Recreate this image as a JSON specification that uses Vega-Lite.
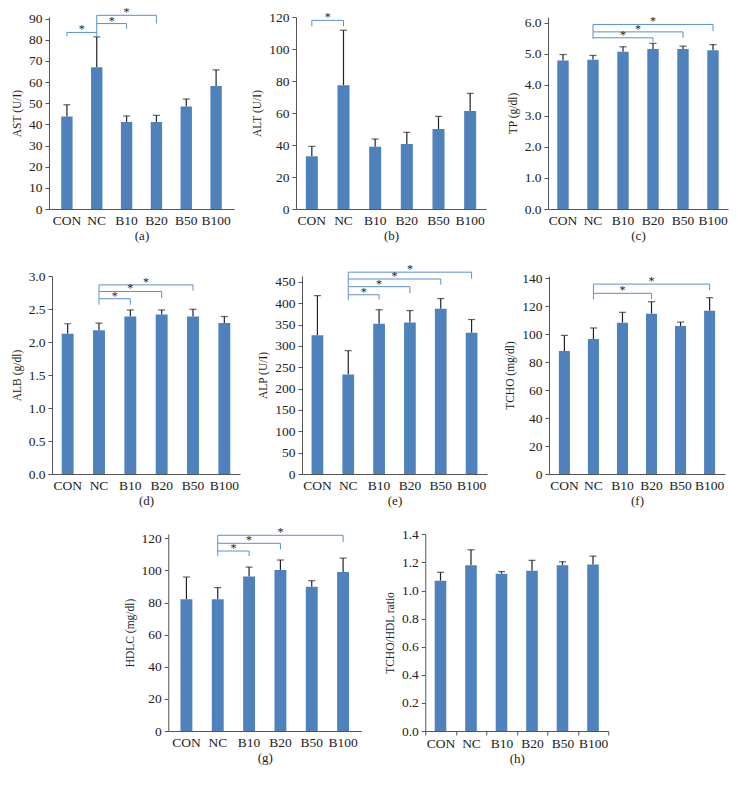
{
"$schema": "https://vega.github.io/schema/vega-lite/v6.json",
"padding": {"left": 11, "top": 6, "right": 5, "bottom": 5},
"datasets": {
"bars": [
{"p":"a","g":"CON","v":43.8,"e":49.3},{"p":"a","g":"NC","v":67.0,"e":81.4},{"p":"a","g":"B10","v":41.2,"e":44.0},{"p":"a","g":"B20","v":41.2,"e":44.3},{"p":"a","g":"B50","v":48.5,"e":52.0},{"p":"a","g":"B100","v":58.2,"e":65.8},
{"p":"b","g":"CON","v":33.0,"e":39.2},{"p":"b","g":"NC","v":77.4,"e":111.9},{"p":"b","g":"B10","v":39.0,"e":43.8},{"p":"b","g":"B20","v":40.7,"e":48.0},{"p":"b","g":"B50","v":50.1,"e":58.0},{"p":"b","g":"B100","v":61.4,"e":72.4},
{"p":"c","g":"CON","v":4.79,"e":4.98},{"p":"c","g":"NC","v":4.81,"e":4.95},{"p":"c","g":"B10","v":5.07,"e":5.23},{"p":"c","g":"B20","v":5.16,"e":5.34},{"p":"c","g":"B50","v":5.16,"e":5.25},{"p":"c","g":"B100","v":5.12,"e":5.30},
{"p":"d","g":"CON","v":2.13,"e":2.28},{"p":"d","g":"NC","v":2.18,"e":2.29},{"p":"d","g":"B10","v":2.39,"e":2.49},{"p":"d","g":"B20","v":2.42,"e":2.49},{"p":"d","g":"B50","v":2.39,"e":2.50},{"p":"d","g":"B100","v":2.29,"e":2.39},
{"p":"e","g":"CON","v":325,"e":418},{"p":"e","g":"NC","v":233,"e":289},{"p":"e","g":"B10","v":352,"e":385},{"p":"e","g":"B20","v":355,"e":383},{"p":"e","g":"B50","v":387,"e":411},{"p":"e","g":"B100","v":331,"e":362},
{"p":"f","g":"CON","v":88.0,"e":99.2},{"p":"f","g":"NC","v":96.6,"e":104.5},{"p":"f","g":"B10","v":108.3,"e":115.7},{"p":"f","g":"B20","v":114.7,"e":123.3},{"p":"f","g":"B50","v":105.9,"e":108.7},{"p":"f","g":"B100","v":116.9,"e":126.2},
{"p":"g","g":"CON","v":82.0,"e":95.9},{"p":"g","g":"NC","v":82.0,"e":89.3},{"p":"g","g":"B10","v":96.3,"e":102.1},{"p":"g","g":"B20","v":100.3,"e":106.5},{"p":"g","g":"B50","v":89.9,"e":93.6},{"p":"g","g":"B100","v":99.0,"e":107.7},
{"p":"h","g":"CON","v":1.07,"e":1.13},{"p":"h","g":"NC","v":1.18,"e":1.29},{"p":"h","g":"B10","v":1.12,"e":1.135},{"p":"h","g":"B20","v":1.14,"e":1.215},{"p":"h","g":"B50","v":1.18,"e":1.205},{"p":"h","g":"B100","v":1.185,"e":1.245}
],
"br": [
{"p":"a","from":"CON","to":"NC","mid":"CON|NC","h":83.5,"l1":81.6,"l2":81.6},
{"p":"a","from":"NC","to":"B10","mid":"NC|B10","h":87.7,"l1":83.5,"l2":85.3},
{"p":"a","from":"NC","to":"B20","mid":"B10","h":91.6,"l1":87.7,"l2":87.7},
{"p":"b","from":"CON","to":"NC","mid":"CON|NC","h":118.1,"l1":114.4,"l2":114.4},
{"p":"c","from":"NC","to":"B20","mid":"B10","h":5.52,"l1":5.49,"l2":5.39},
{"p":"c","from":"NC","to":"B50","mid":"B10|B20","h":5.71,"l1":5.52,"l2":5.52},
{"p":"c","from":"NC","to":"B100","mid":"B20","h":5.95,"l1":5.71,"l2":5.73},
{"p":"d","from":"NC","to":"B10","mid":"NC|B10","h":2.66,"l1":2.57,"l2":2.57},
{"p":"d","from":"NC","to":"B20","mid":"B10","h":2.77,"l1":2.66,"l2":2.67},
{"p":"d","from":"NC","to":"B50","mid":"B10|B20","h":2.87,"l1":2.77,"l2":2.78},
{"p":"e","from":"NC","to":"B10","mid":"NC|B10","h":420,"l1":407,"l2":408.6},
{"p":"e","from":"NC","to":"B20","mid":"B10","h":439,"l1":420,"l2":424},
{"p":"e","from":"NC","to":"B50","mid":"B10|B20","h":457,"l1":439,"l2":443.7},
{"p":"e","from":"NC","to":"B100","mid":"B20","h":473,"l1":457,"l2":457.8},
{"p":"f","from":"NC","to":"B20","mid":"B10","h":129.3,"l1":125,"l2":125},
{"p":"f","from":"NC","to":"B100","mid":"B20","h":135.9,"l1":129.3,"l2":131.6},
{"p":"g","from":"NC","to":"B10","mid":"NC|B10","h":112.1,"l1":109,"l2":109},
{"p":"g","from":"NC","to":"B20","mid":"B10","h":116.9,"l1":112.1,"l2":113.1},
{"p":"g","from":"NC","to":"B100","mid":"B20","h":121.9,"l1":116.9,"l2":117.7}
]
},
"spacing": 20,
"center": true,
"vconcat": [
{"bounds": "flush", "spacing": 62, "hconcat": [
{"width": 185, "height": 192, "resolve": {"scale": {"x": "independent"}}, "layer": [
 {"layer": [
  {"data": {"name": "bars"}, "transform": [{"filter": "datum.p === 'a'"}],
   "encoding": {"x": {"field": "g", "type": "nominal", "sort": null, "scale": {"domain": ["CON","NC","B10","B20","B50","B100"], "paddingInner": 0, "paddingOuter": 0.1}, "axis": {"title": "(a)"}}},
   "layer": [
    {"mark": {"type": "rule", "color": "#222", "strokeWidth": 1.2}, "encoding": {"y": {"field": "v", "type": "quantitative", "scale": {"domain": [0, 90.8], "nice": false}, "axis": {"title": "AST (U/I)", "values": [0,10,20,30,40,50,60,70,80,90], "tickCount": 20, "labelOverlap": false}}, "y2": {"field": "e"}}},
    {"mark": {"type": "tick", "color": "#222", "size": 7, "thickness": 1.2}, "encoding": {"y": {"field": "e", "type": "quantitative"}}},
    {"mark": {"type": "bar", "color": "#4F81BD", "width": {"band": 0.38}}, "encoding": {"y": {"field": "v", "type": "quantitative"}}}
   ]},
  {"data": {"name": "br"}, "transform": [{"filter": "datum.p === 'a'"}],
   "layer": [
    {"mark": {"type": "rule", "color": "#5B8FD0"}, "encoding": {"x": {"field": "from", "type": "nominal"}, "x2": {"field": "to"}, "y": {"field": "h", "type": "quantitative"}}},
    {"mark": {"type": "rule", "color": "#5B8FD0"}, "encoding": {"x": {"field": "from", "type": "nominal"}, "y": {"field": "h", "type": "quantitative"}, "y2": {"field": "l1"}}},
    {"mark": {"type": "rule", "color": "#5B8FD0"}, "encoding": {"x": {"field": "to", "type": "nominal"}, "y": {"field": "h", "type": "quantitative"}, "y2": {"field": "l2"}}}
   ]}
 ]},
 {"data": {"name": "br"}, "transform": [{"filter": "datum.p === 'a'"}],
  "mark": {"type": "text", "text": "*", "fontSize": 12, "baseline": "alphabetic", "dy": 1, "color": "#222"},
  "encoding": {"x": {"field": "mid", "type": "nominal", "scale": {"type": "band", "domain": ["CON","CON|NC","NC","NC|B10","B10","B10|B20","B20","B20|B50","B50","B50|B100","B100"], "paddingInner": 0, "paddingOuter": 0.7}, "axis": null}, "y": {"field": "h", "type": "quantitative", "axis": {"title": "AST (U/I)", "values": [0,10,20,30,40,50,60,70,80,90], "tickCount": 20, "labelOverlap": false}}}}
]},
{"width": 190, "height": 192, "resolve": {"scale": {"x": "independent"}}, "layer": [
 {"layer": [
  {"data": {"name": "bars"}, "transform": [{"filter": "datum.p === 'b'"}],
   "encoding": {"x": {"field": "g", "type": "nominal", "sort": null, "scale": {"domain": ["CON","NC","B10","B20","B50","B100"], "paddingInner": 0, "paddingOuter": 0}, "axis": {"title": "(b)"}}},
   "layer": [
    {"mark": {"type": "rule", "color": "#222", "strokeWidth": 1.2}, "encoding": {"y": {"field": "v", "type": "quantitative", "scale": {"domain": [0, 120.2], "nice": false}, "axis": {"title": "ALT (U/I)", "values": [0,20,40,60,80,100,120], "tickCount": 20, "labelOverlap": false}}, "y2": {"field": "e"}}},
    {"mark": {"type": "tick", "color": "#222", "size": 7, "thickness": 1.2}, "encoding": {"y": {"field": "e", "type": "quantitative"}}},
    {"mark": {"type": "bar", "color": "#4F81BD", "width": {"band": 0.38}}, "encoding": {"y": {"field": "v", "type": "quantitative"}}}
   ]},
  {"data": {"name": "br"}, "transform": [{"filter": "datum.p === 'b'"}],
   "layer": [
    {"mark": {"type": "rule", "color": "#5B8FD0"}, "encoding": {"x": {"field": "from", "type": "nominal"}, "x2": {"field": "to"}, "y": {"field": "h", "type": "quantitative"}}},
    {"mark": {"type": "rule", "color": "#5B8FD0"}, "encoding": {"x": {"field": "from", "type": "nominal"}, "y": {"field": "h", "type": "quantitative"}, "y2": {"field": "l1"}}},
    {"mark": {"type": "rule", "color": "#5B8FD0"}, "encoding": {"x": {"field": "to", "type": "nominal"}, "y": {"field": "h", "type": "quantitative"}, "y2": {"field": "l2"}}}
   ]}
 ]},
 {"data": {"name": "br"}, "transform": [{"filter": "datum.p === 'b'"}],
  "mark": {"type": "text", "text": "*", "fontSize": 12, "baseline": "alphabetic", "dy": 1, "color": "#222"},
  "encoding": {"x": {"field": "mid", "type": "nominal", "scale": {"type": "band", "domain": ["CON","CON|NC","NC","NC|B10","B10","B10|B20","B20","B20|B50","B50","B50|B100","B100"], "paddingInner": 0, "paddingOuter": 0.5}, "axis": null}, "y": {"field": "h", "type": "quantitative", "axis": {"title": "ALT (U/I)", "values": [0,20,40,60,80,100,120], "tickCount": 20, "labelOverlap": false}}}}
]},
{"width": 180, "height": 192, "resolve": {"scale": {"x": "independent"}}, "layer": [
 {"layer": [
  {"data": {"name": "bars"}, "transform": [{"filter": "datum.p === 'c'"}],
   "encoding": {"x": {"field": "g", "type": "nominal", "sort": null, "scale": {"domain": ["CON","NC","B10","B20","B50","B100"], "paddingInner": 0, "paddingOuter": 0}, "axis": {"title": "(c)"}}},
   "layer": [
    {"mark": {"type": "rule", "color": "#222", "strokeWidth": 1.2}, "encoding": {"y": {"field": "v", "type": "quantitative", "scale": {"domain": [0, 6.19], "nice": false}, "axis": {"title": "TP (g/dl)", "format": ".1f", "values": [0,1,2,3,4,5,6], "tickCount": 20, "labelOverlap": false}}, "y2": {"field": "e"}}},
    {"mark": {"type": "tick", "color": "#222", "size": 7, "thickness": 1.2}, "encoding": {"y": {"field": "e", "type": "quantitative"}}},
    {"mark": {"type": "bar", "color": "#4F81BD", "width": {"band": 0.38}}, "encoding": {"y": {"field": "v", "type": "quantitative"}}}
   ]},
  {"data": {"name": "br"}, "transform": [{"filter": "datum.p === 'c'"}],
   "layer": [
    {"mark": {"type": "rule", "color": "#5B8FD0"}, "encoding": {"x": {"field": "from", "type": "nominal"}, "x2": {"field": "to"}, "y": {"field": "h", "type": "quantitative"}}},
    {"mark": {"type": "rule", "color": "#5B8FD0"}, "encoding": {"x": {"field": "from", "type": "nominal"}, "y": {"field": "h", "type": "quantitative"}, "y2": {"field": "l1"}}},
    {"mark": {"type": "rule", "color": "#5B8FD0"}, "encoding": {"x": {"field": "to", "type": "nominal"}, "y": {"field": "h", "type": "quantitative"}, "y2": {"field": "l2"}}}
   ]}
 ]},
 {"data": {"name": "br"}, "transform": [{"filter": "datum.p === 'c'"}],
  "mark": {"type": "text", "text": "*", "fontSize": 12, "baseline": "alphabetic", "dy": 1, "color": "#222"},
  "encoding": {"x": {"field": "mid", "type": "nominal", "scale": {"type": "band", "domain": ["CON","CON|NC","NC","NC|B10","B10","B10|B20","B20","B20|B50","B50","B50|B100","B100"], "paddingInner": 0, "paddingOuter": 0.5}, "axis": null}, "y": {"field": "h", "type": "quantitative", "axis": {"title": "TP (g/dl)", "format": ".1f", "values": [0,1,2,3,4,5,6], "tickCount": 20, "labelOverlap": false}}}}
]}
]},
{"spacing": 18, "center": true, "vconcat": [
{"bounds": "flush", "spacing": 62, "hconcat": [
{"width": 188, "height": 198, "resolve": {"scale": {"x": "independent"}}, "layer": [
 {"layer": [
  {"data": {"name": "bars"}, "transform": [{"filter": "datum.p === 'd'"}],
   "encoding": {"x": {"field": "g", "type": "nominal", "sort": null, "scale": {"domain": ["CON","NC","B10","B20","B50","B100"], "paddingInner": 0, "paddingOuter": 0}, "axis": {"title": "(d)"}}},
   "layer": [
    {"mark": {"type": "rule", "color": "#222", "strokeWidth": 1.2}, "encoding": {"y": {"field": "v", "type": "quantitative", "scale": {"domain": [0, 3.005], "nice": false}, "axis": {"title": "ALB (g/dl)", "format": ".1f", "values": [0,0.5,1,1.5,2,2.5,3], "tickCount": 20, "labelOverlap": false}}, "y2": {"field": "e"}}},
    {"mark": {"type": "tick", "color": "#222", "size": 7, "thickness": 1.2}, "encoding": {"y": {"field": "e", "type": "quantitative"}}},
    {"mark": {"type": "bar", "color": "#4F81BD", "width": {"band": 0.38}}, "encoding": {"y": {"field": "v", "type": "quantitative"}}}
   ]},
  {"data": {"name": "br"}, "transform": [{"filter": "datum.p === 'd'"}],
   "layer": [
    {"mark": {"type": "rule", "color": "#5B8FD0"}, "encoding": {"x": {"field": "from", "type": "nominal"}, "x2": {"field": "to"}, "y": {"field": "h", "type": "quantitative"}}},
    {"mark": {"type": "rule", "color": "#5B8FD0"}, "encoding": {"x": {"field": "from", "type": "nominal"}, "y": {"field": "h", "type": "quantitative"}, "y2": {"field": "l1"}}},
    {"mark": {"type": "rule", "color": "#5B8FD0"}, "encoding": {"x": {"field": "to", "type": "nominal"}, "y": {"field": "h", "type": "quantitative"}, "y2": {"field": "l2"}}}
   ]}
 ]},
 {"data": {"name": "br"}, "transform": [{"filter": "datum.p === 'd'"}],
  "mark": {"type": "text", "text": "*", "fontSize": 12, "baseline": "alphabetic", "dy": 1, "color": "#222"},
  "encoding": {"x": {"field": "mid", "type": "nominal", "scale": {"type": "band", "domain": ["CON","CON|NC","NC","NC|B10","B10","B10|B20","B20","B20|B50","B50","B50|B100","B100"], "paddingInner": 0, "paddingOuter": 0.5}, "axis": null}, "y": {"field": "h", "type": "quantitative", "axis": {"title": "ALB (g/dl)", "format": ".1f", "values": [0,0.5,1,1.5,2,2.5,3], "tickCount": 20, "labelOverlap": false}}}}
]},
{"width": 185, "height": 198, "resolve": {"scale": {"x": "independent"}}, "layer": [
 {"layer": [
  {"data": {"name": "bars"}, "transform": [{"filter": "datum.p === 'e'"}],
   "encoding": {"x": {"field": "g", "type": "nominal", "sort": null, "scale": {"domain": ["CON","NC","B10","B20","B50","B100"], "paddingInner": 0, "paddingOuter": 0}, "axis": {"title": "(e)"}}},
   "layer": [
    {"mark": {"type": "rule", "color": "#222", "strokeWidth": 1.2}, "encoding": {"y": {"field": "v", "type": "quantitative", "scale": {"domain": [0, 464], "nice": false}, "axis": {"title": "ALP (U/I)", "values": [0,50,100,150,200,250,300,350,400,450], "tickCount": 20, "labelOverlap": false}}, "y2": {"field": "e"}}},
    {"mark": {"type": "tick", "color": "#222", "size": 7, "thickness": 1.2}, "encoding": {"y": {"field": "e", "type": "quantitative"}}},
    {"mark": {"type": "bar", "color": "#4F81BD", "width": {"band": 0.38}}, "encoding": {"y": {"field": "v", "type": "quantitative"}}}
   ]},
  {"data": {"name": "br"}, "transform": [{"filter": "datum.p === 'e'"}],
   "layer": [
    {"mark": {"type": "rule", "color": "#5B8FD0"}, "encoding": {"x": {"field": "from", "type": "nominal"}, "x2": {"field": "to"}, "y": {"field": "h", "type": "quantitative"}}},
    {"mark": {"type": "rule", "color": "#5B8FD0"}, "encoding": {"x": {"field": "from", "type": "nominal"}, "y": {"field": "h", "type": "quantitative"}, "y2": {"field": "l1"}}},
    {"mark": {"type": "rule", "color": "#5B8FD0"}, "encoding": {"x": {"field": "to", "type": "nominal"}, "y": {"field": "h", "type": "quantitative"}, "y2": {"field": "l2"}}}
   ]}
 ]},
 {"data": {"name": "br"}, "transform": [{"filter": "datum.p === 'e'"}],
  "mark": {"type": "text", "text": "*", "fontSize": 12, "baseline": "alphabetic", "dy": 1, "color": "#222"},
  "encoding": {"x": {"field": "mid", "type": "nominal", "scale": {"type": "band", "domain": ["CON","CON|NC","NC","NC|B10","B10","B10|B20","B20","B20|B50","B50","B50|B100","B100"], "paddingInner": 0, "paddingOuter": 0.5}, "axis": null}, "y": {"field": "h", "type": "quantitative", "axis": {"title": "ALP (U/I)", "values": [0,50,100,150,200,250,300,350,400,450], "tickCount": 20, "labelOverlap": false}}}}
]},
{"width": 176, "height": 198, "resolve": {"scale": {"x": "independent"}}, "layer": [
 {"layer": [
  {"data": {"name": "bars"}, "transform": [{"filter": "datum.p === 'f'"}],
   "encoding": {"x": {"field": "g", "type": "nominal", "sort": null, "scale": {"domain": ["CON","NC","B10","B20","B50","B100"], "paddingInner": 0, "paddingOuter": 0.03}, "axis": {"title": "(f)"}}},
   "layer": [
    {"mark": {"type": "rule", "color": "#222", "strokeWidth": 1.2}, "encoding": {"y": {"field": "v", "type": "quantitative", "scale": {"domain": [0, 141.7], "nice": false}, "axis": {"title": "TCHO (mg/dl)", "values": [0,20,40,60,80,100,120,140], "tickCount": 20, "labelOverlap": false}}, "y2": {"field": "e"}}},
    {"mark": {"type": "tick", "color": "#222", "size": 7, "thickness": 1.2}, "encoding": {"y": {"field": "e", "type": "quantitative"}}},
    {"mark": {"type": "bar", "color": "#4F81BD", "width": {"band": 0.38}}, "encoding": {"y": {"field": "v", "type": "quantitative"}}}
   ]},
  {"data": {"name": "br"}, "transform": [{"filter": "datum.p === 'f'"}],
   "layer": [
    {"mark": {"type": "rule", "color": "#5B8FD0"}, "encoding": {"x": {"field": "from", "type": "nominal"}, "x2": {"field": "to"}, "y": {"field": "h", "type": "quantitative"}}},
    {"mark": {"type": "rule", "color": "#5B8FD0"}, "encoding": {"x": {"field": "from", "type": "nominal"}, "y": {"field": "h", "type": "quantitative"}, "y2": {"field": "l1"}}},
    {"mark": {"type": "rule", "color": "#5B8FD0"}, "encoding": {"x": {"field": "to", "type": "nominal"}, "y": {"field": "h", "type": "quantitative"}, "y2": {"field": "l2"}}}
   ]}
 ]},
 {"data": {"name": "br"}, "transform": [{"filter": "datum.p === 'f'"}],
  "mark": {"type": "text", "text": "*", "fontSize": 12, "baseline": "alphabetic", "dy": 1, "color": "#222"},
  "encoding": {"x": {"field": "mid", "type": "nominal", "scale": {"type": "band", "domain": ["CON","CON|NC","NC","NC|B10","B10","B10|B20","B20","B20|B50","B50","B50|B100","B100"], "paddingInner": 0, "paddingOuter": 0.56}, "axis": null}, "y": {"field": "h", "type": "quantitative", "axis": {"title": "TCHO (mg/dl)", "values": [0,20,40,60,80,100,120,140], "tickCount": 20, "labelOverlap": false}}}}
]}
]},
{"bounds": "flush", "spacing": 64, "hconcat": [
{"width": 193, "height": 197, "resolve": {"scale": {"x": "independent"}}, "layer": [
 {"layer": [
  {"data": {"name": "bars"}, "transform": [{"filter": "datum.p === 'g'"}],
   "encoding": {"x": {"field": "g", "type": "nominal", "sort": null, "scale": {"domain": ["CON","NC","B10","B20","B50","B100"], "paddingInner": 0, "paddingOuter": 0.08}, "axis": {"title": "(g)"}}},
   "layer": [
    {"mark": {"type": "rule", "color": "#222", "strokeWidth": 1.2}, "encoding": {"y": {"field": "v", "type": "quantitative", "scale": {"domain": [0, 122.7], "nice": false}, "axis": {"title": "HDLC (mg/dl)", "values": [0,20,40,60,80,100,120], "tickCount": 20, "labelOverlap": false}}, "y2": {"field": "e"}}},
    {"mark": {"type": "tick", "color": "#222", "size": 7, "thickness": 1.2}, "encoding": {"y": {"field": "e", "type": "quantitative"}}},
    {"mark": {"type": "bar", "color": "#4F81BD", "width": {"band": 0.38}}, "encoding": {"y": {"field": "v", "type": "quantitative"}}}
   ]},
  {"data": {"name": "br"}, "transform": [{"filter": "datum.p === 'g'"}],
   "layer": [
    {"mark": {"type": "rule", "color": "#5B8FD0"}, "encoding": {"x": {"field": "from", "type": "nominal"}, "x2": {"field": "to"}, "y": {"field": "h", "type": "quantitative"}}},
    {"mark": {"type": "rule", "color": "#5B8FD0"}, "encoding": {"x": {"field": "from", "type": "nominal"}, "y": {"field": "h", "type": "quantitative"}, "y2": {"field": "l1"}}},
    {"mark": {"type": "rule", "color": "#5B8FD0"}, "encoding": {"x": {"field": "to", "type": "nominal"}, "y": {"field": "h", "type": "quantitative"}, "y2": {"field": "l2"}}}
   ]}
 ]},
 {"data": {"name": "br"}, "transform": [{"filter": "datum.p === 'g'"}],
  "mark": {"type": "text", "text": "*", "fontSize": 12, "baseline": "alphabetic", "dy": 1, "color": "#222"},
  "encoding": {"x": {"field": "mid", "type": "nominal", "scale": {"type": "band", "domain": ["CON","CON|NC","NC","NC|B10","B10","B10|B20","B20","B20|B50","B50","B50|B100","B100"], "paddingInner": 0, "paddingOuter": 0.66}, "axis": null}, "y": {"field": "h", "type": "quantitative", "axis": {"title": "HDLC (mg/dl)", "values": [0,20,40,60,80,100,120], "tickCount": 20, "labelOverlap": false}}}}
]},
{"width": 183, "height": 197, "layer": [
  {"data": {"name": "bars"}, "transform": [{"filter": "datum.p === 'h'"}],
   "encoding": {"x": {"field": "g", "type": "nominal", "sort": null, "scale": {"domain": ["CON","NC","B10","B20","B50","B100"], "paddingInner": 0, "paddingOuter": 0}, "axis": {"title": "(h)", "ticks": true, "tickBand": "extent", "tickSize": 4, "labelPadding": 1}}},
   "layer": [
    {"mark": {"type": "rule", "color": "#222", "strokeWidth": 1.2}, "encoding": {"y": {"field": "v", "type": "quantitative", "scale": {"domain": [0, 1.4025], "nice": false}, "axis": {"title": "TCHO/HDL ratio", "format": ".1f", "values": [0,0.2,0.4,0.6,0.8,1.0,1.2,1.4], "tickCount": 20, "labelOverlap": false}}, "y2": {"field": "e"}}},
    {"mark": {"type": "tick", "color": "#222", "size": 7, "thickness": 1.2}, "encoding": {"y": {"field": "e", "type": "quantitative"}}},
    {"mark": {"type": "bar", "color": "#4F81BD", "width": {"band": 0.38}}, "encoding": {"y": {"field": "v", "type": "quantitative"}}}
   ]}
]}
]}
]}
],
"config": {
 "view": {"stroke": null},
 "font": "Liberation Serif",
 "axis": {"grid": false, "labelFont": "Liberation Serif", "titleFont": "Liberation Serif", "labelFontSize": 13.5, "titleFontSize": 11.5, "titleFontWeight": "normal", "labelColor": "#222", "titleColor": "#222", "domainColor": "#555", "tickColor": "#555", "labelOverlap": false},
 "axisX": {"ticks": false, "labelAngle": 0, "labelPadding": 4, "titlePadding": 3, "titleFontSize": 13},
 "axisY": {"tickSize": 4, "labelPadding": 3, "titlePadding": 6}
}
}
